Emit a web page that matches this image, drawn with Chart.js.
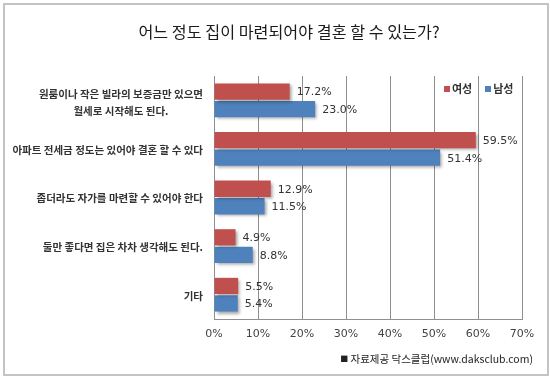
<!DOCTYPE html>
<html>
<head>
<meta charset="utf-8">
<script src="https://cdn.jsdelivr.net/npm/chart.js@4/dist/chart.umd.min.js"></script>
<style>
  html, body { margin: 0; padding: 0; background: #fff; }
  #wrap { position: relative; width: 550px; height: 379px; overflow: hidden; background: #fff; }
  #frame { position: absolute; left: 3px; top: 3px; width: 542px; height: 369px; border: 2px solid #c4c4c4; }
  canvas { position: absolute; left: 0; top: 0; }
  .txt { position: absolute; font-family: "Noto Sans CJK KR", "Noto Sans", sans-serif; white-space: nowrap; }
  #title { left: 0; width: 578px; top: 20px; line-height: 22px; text-align: center; font-size: 16.2px; color: #1a1a1a; }
  #legend { left: 444px; top: 80px; font-size: 11px; font-weight: bold; color: #333; line-height: 16px; }
  #legend span.sw { display: inline-block; width: 6px; height: 6px; margin-right: 2px; vertical-align: 1px; }
  #source { right: 17px; top: 351px; font-size: 10.5px; color: #222; line-height: 16px; }
  #source .sq { font-size: 8px; vertical-align: 1px; }
</style>
</head>
<body>
<div id="wrap">
  <div id="frame"></div>
  <canvas id="c" width="550" height="379"></canvas>
  <div class="txt" id="title">어느 정도 집이 마련되어야 결혼 할 수 있는가?</div>
  <div class="txt" id="legend"><span class="sw" style="background:#c0504d"></span>여성<span style="display:inline-block;width:13px"></span><span class="sw" style="background:#4f81bd"></span>남성</div>
  <div class="txt" id="source"><span class="sq">■</span> 자료제공 닥스클럽(www.daksclub.com)</div>
</div>
<script>
const categories = [
  ["원룸이나 작은 빌라의 보증금만 있으면", "월세로 시작해도 된다."],
  ["아파트 전세금 정도는 있어야 결혼 할 수 있다"],
  ["좁더라도 자가를 마련할 수 있어야 한다"],
  ["둘만 좋다면 집은 차차 생각해도 된다."],
  ["기타"]
];
const seriesNames = ["여성", "남성"];
const female = [17.2, 59.5, 12.9, 4.9, 5.5];
const male = [23.0, 51.4, 11.5, 8.8, 5.4];
const xTicks = [0, 10, 20, 30, 40, 50, 60, 70];

const shadowPlugin = {
  id: 'shadow',
  beforeDatasetsDraw(chart) {
    const ctx = chart.ctx;
    ctx.save();
    ctx.shadowColor = 'rgba(0,0,0,0.35)';
    ctx.shadowBlur = 3;
    ctx.shadowOffsetX = 2;
    ctx.shadowOffsetY = 2;
  },
  afterDatasetsDraw(chart) {
    const ctx = chart.ctx;
    ctx.restore();
    ctx.save();
    ctx.font = '11px "DejaVu Sans", sans-serif';
    ctx.fillStyle = '#333';
    ctx.textBaseline = 'middle';
    ctx.textAlign = 'left';
    chart.data.datasets.forEach((ds, i) => {
      const meta = chart.getDatasetMeta(i);
      meta.data.forEach((bar, j) => {
        ctx.fillText(ds.data[j].toFixed(1) + '%', bar.x + 7, bar.y + 1);
      });
    });
    ctx.restore();
  }
};

const catLabelPlugin = {
  id: 'catLabels',
  afterDraw(chart) {
    const ctx = chart.ctx;
    const y = chart.scales.y;
    ctx.save();
    ctx.font = 'bold 10.5px "Noto Sans CJK KR", sans-serif';
    ctx.fillStyle = '#333';
    ctx.textBaseline = 'middle';
    ctx.textAlign = 'center';
    const right = 203;
    const lh = 17;
    categories.forEach((lines, i) => {
      const cy = y.getPixelForValue(i) + (lines.length > 1 ? 2 : 1);
      const maxW = Math.max(...lines.map(l => ctx.measureText(l).width));
      const cx = right - maxW / 2;
      const y0 = cy - (lines.length - 1) * lh / 2;
      lines.forEach((l, k) => ctx.fillText(l, cx, y0 + k * lh));
    });
    ctx.restore();
  }
};

new Chart(document.getElementById('c'), {
  type: 'bar',
  data: {
    labels: categories,
    datasets: [
      { label: seriesNames[0], data: female, backgroundColor: '#c0504d', borderWidth: 0 },
      { label: seriesNames[1], data: male, backgroundColor: '#4f81bd', borderWidth: 0 }
    ]
  },
  options: {
    indexAxis: 'y',
    responsive: false,
    animation: false,
    devicePixelRatio: 1,
    layout: { padding: { top: 76, right: 28, bottom: 0, left: 0 } },
    datasets: { bar: { categoryPercentage: 0.72, barPercentage: 0.93 } },
    plugins: { legend: { display: false }, tooltip: { enabled: false }, title: { display: false } },
    scales: {
      x: {
        min: 0, max: 70,
        afterBuildTicks(scale) { scale.ticks = xTicks.map(v => ({ value: v })); },
        afterFit(scale) { scale.height = 60; },
        grid: { color: '#8f8f8f', lineWidth: 1, drawTicks: false },
        border: { display: true, color: '#8f8f8f' },
        ticks: {
          padding: 9,
          color: '#444',
          font: { family: '"DejaVu Sans", sans-serif', size: 11 },
          callback: v => v + '%'
        }
      },
      y: {
        afterFit(scale) { scale.width = 214; },
        grid: { display: false, drawTicks: false },
        border: { display: true, color: '#8f8f8f' },
        ticks: { display: false }
      }
    }
  },
  plugins: [shadowPlugin, catLabelPlugin]
});
</script>
</body>
</html>
